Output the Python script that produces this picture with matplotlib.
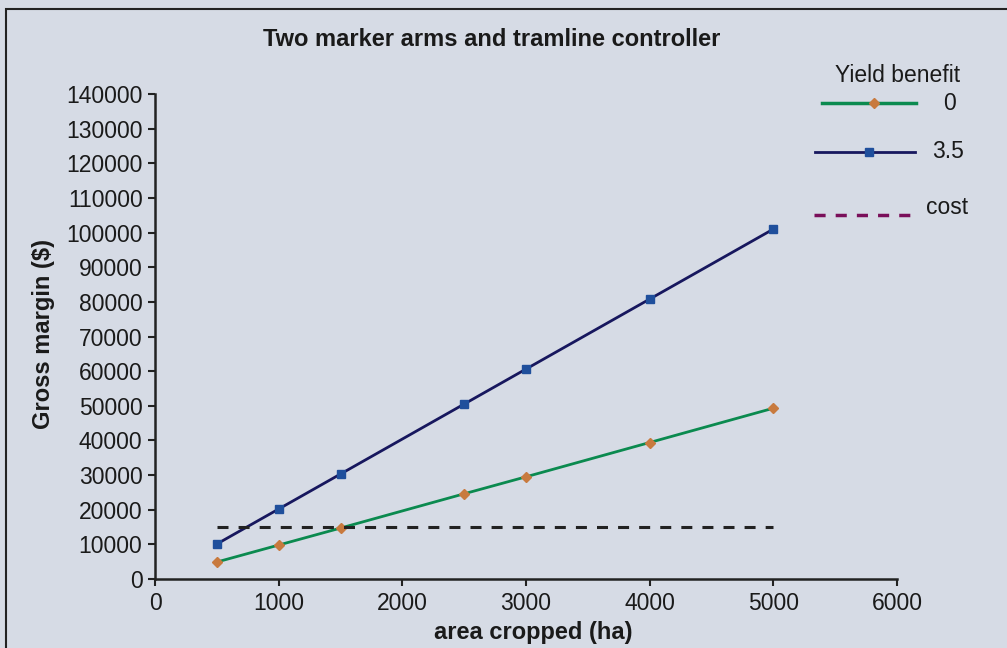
import matplotlib.pyplot as plt
from matplotlib.lines import Line2D
from matplotlib.patches import Rectangle

area = [500, 1000, 1500, 2500, 3000, 4000, 5000]
margin_0 = [4900, 9800, 14700, 24600, 29500, 39400, 49300]
margin_35 = [10100, 20200, 30300, 50500, 60600, 80800, 101000]
cost_x = [500, 5000]
cost_y = [15000, 15000]
legend_title = "Yield benefit"
legend_labels = ["0", "3.5", "cost"]

bg = "#d6dbe5"
green, orange = "#0b8a4f", "#c87a3e"
navy, blue = "#17175e", "#1f4f9c"
plt.rcParams["font.family"] = ["Liberation Sans", "DejaVu Sans"]

W, H = 1007, 648
fig = plt.figure(figsize=(W / 100, H / 100), dpi=100, facecolor=bg)
fig.patches.append(Rectangle((0.006, -0.01), 1.0, 0.996, transform=fig.transFigure,
                             fill=False, edgecolor="#222222", linewidth=1.5))
ax = fig.add_axes([155 / W, 1 - 579 / H, 742 / W, 485 / H])
ax.set_facecolor(bg)

ax.plot(area, margin_0, color=green, lw=2, marker="D", ms=5.5, mfc=orange, mec=orange)
ax.plot(area, margin_35, color=navy, lw=2, marker="s", ms=5.5, mfc=blue, mec=blue)
ax.plot(cost_x, cost_y, color="#222222", lw=2.2, ls=(0, (3.6, 3.3)))

ax.set_xlim(0, 6000)
ax.set_ylim(0, 140000)
ax.set_xticks(range(0, 6001, 1000))
ax.set_yticks(range(0, 140001, 10000))
for s in ["top", "right"]:
    ax.spines[s].set_visible(False)
for s in ["left", "bottom"]:
    ax.spines[s].set_linewidth(1.8)
    ax.spines[s].set_color("#222222")
ax.tick_params(direction="out", length=5, width=1.5, labelsize=16.5, pad=4,
               colors="#222222", labelcolor="#1a1a1a")

fig.text(492 / W, 1 - 39 / H, "Two marker arms and tramline controller",
         fontsize=17, fontweight="bold", ha="center", va="center", color="#1a1a1a")
ax.set_xlabel("area cropped (ha)", fontsize=17, fontweight="bold", color="#1a1a1a")
ax.xaxis.set_label_coords((533 - 155) / 742, (579 - 621) / 485)
ax.set_ylabel("Gross margin ($)", fontsize=17, fontweight="bold", color="#1a1a1a")
ax.yaxis.set_label_coords((55 - 155) / 742, (579 - 334) / 485)

# legend, drawn by hand to keep the uneven spacing of the original
def fx(px):
    return px / W

def fy(py):
    return 1 - py / H

fig.text(fx(898), fy(75), legend_title, fontsize=16.5, ha="center", va="center",
         color="#1a1a1a")
handles = [
    dict(x=(822, 916), y=103, mx=874, color=green, marker="D", mfc=orange, ls="-", lw=2.5),
    dict(x=(815, 915), y=152, mx=869, color=navy, marker="s", mfc=blue, ls="-", lw=2),
    dict(x=(814, 912), y=215, mx=None, color="#7a0f5a", marker=None, mfc=None,
         ls=(0, (3.2, 2.9)), lw=2.5),
]
label_pos = [(949, 104), (948, 152), (947, 208)]
for h, lab, (lx, ly) in zip(handles, legend_labels, label_pos):
    fig.add_artist(Line2D([fx(h["x"][0]), fx(h["x"][1])], [fy(h["y"])] * 2,
                          transform=fig.transFigure, color=h["color"], lw=h["lw"],
                          ls=h["ls"]))
    if h["mx"] is not None:
        fig.add_artist(Line2D([fx(h["mx"])], [fy(h["y"])], transform=fig.transFigure,
                              ls="none", marker=h["marker"], ms=5.5,
                              mfc=h["mfc"], mec=h["mfc"]))
    fig.text(fx(lx), fy(ly), lab, fontsize=16.5, ha="center", va="center",
             color="#1a1a1a")

fig.savefig("out.png", dpi=100, facecolor=bg)
